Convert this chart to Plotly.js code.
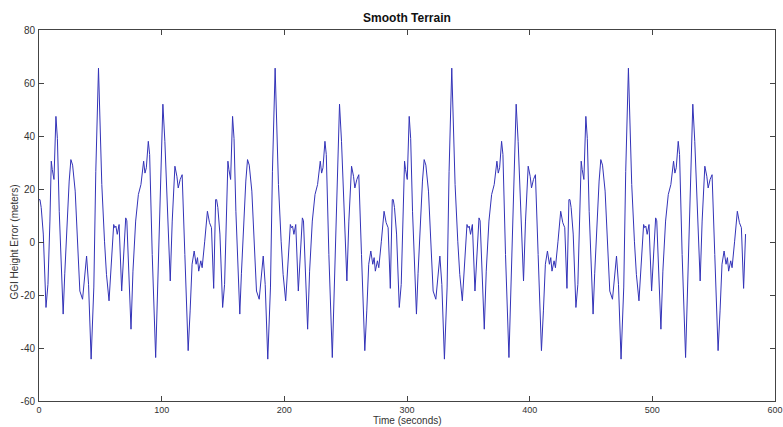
<!DOCTYPE html>
<html>
<head>
<meta charset="utf-8">
<script src="https://cdn.plot.ly/plotly-3.0.1.min.js"></script>
<style>
html,body{margin:0;padding:0;background:#fff;}
#chart{width:783px;height:427px;}
</style>
</head>
<body>
<div id="chart"></div>
<script>
// Time (seconds) and GGI height error (meters)
var timeSec = [
  0, 0.8, 1.8, 3.5, 5.7, 7.3, 8.9, 10, 10.8, 12.2, 13.8, 15, 16.5, 18, 19.7, 21, 22.5, 24.6, 26, 27.4,
  29.5, 31.7, 33.3, 35.5, 37.1, 38.8, 40.4, 42.5, 44.7, 46.3, 48.5, 49.3, 51.2, 53.4, 55, 57.1, 58.8, 60.9, 61.8, 62.7,
  63.8, 65.3, 67.4, 69.6, 70.7, 71.6, 72.3, 75, 76.6, 78.8, 81, 83.1, 85.3, 86.4, 87.5, 89.1, 90.2, 92.3, 95.1, 97.3,
  98.9, 101, 102.6, 104.3, 105.9, 107, 108.6, 110.8, 112.4, 113.5, 115.1, 116.7, 118.9, 121.6, 123.2, 124.8, 126.5, 128.1, 129.2, 130.2,
  131.9, 133, 135.1, 137.3, 139, 140.6, 142.4,
  144, 144.8, 145.8, 147.5, 149.7, 151.3, 152.9, 154, 154.8, 156.2, 157.8, 159, 160.5, 162, 163.7, 165, 166.5, 168.6, 170, 171.4,
  173.5, 175.7, 177.3, 179.5, 181.1, 182.8, 184.4, 186.5, 188.7, 190.3, 192.5, 193.3, 195.2, 197.4, 199, 201.1, 202.8, 204.9, 205.8, 206.7,
  207.8, 209.3, 211.4, 213.6, 214.7, 215.6, 216.3, 219, 220.6, 222.8, 225, 227.1, 229.3, 230.4, 231.5, 233.1, 234.2, 236.3, 239.1, 241.3,
  242.9, 245, 246.6, 248.3, 249.9, 251, 252.6, 254.8, 256.4, 257.5, 259.1, 260.7, 262.9, 265.6, 267.2, 268.8, 270.5, 272.1, 273.2, 274.2,
  275.9, 277, 279.1, 281.3, 283, 284.6, 286.4,
  288, 288.8, 289.8, 291.5, 293.7, 295.3, 296.9, 298, 298.8, 300.2, 301.8, 303, 304.5, 306, 307.7, 309, 310.5, 312.6, 314, 315.4,
  317.5, 319.7, 321.3, 323.5, 325.1, 326.8, 328.4, 330.5, 332.7, 334.3, 336.5, 337.3, 339.2, 341.4, 343, 345.1, 346.8, 348.9, 349.8, 350.7,
  351.8, 353.3, 355.4, 357.6, 358.7, 359.6, 360.3, 363, 364.6, 366.8, 369, 371.1, 373.3, 374.4, 375.5, 377.1, 378.2, 380.3, 383.1, 385.3,
  386.9, 389, 390.6, 392.3, 393.9, 395, 396.6, 398.8, 400.4, 401.5, 403.1, 404.7, 406.9, 409.6, 411.2, 412.8, 414.5, 416.1, 417.2, 418.2,
  419.9, 421, 423.1, 425.3, 427, 428.6, 430.4,
  432, 432.8, 433.8, 435.5, 437.7, 439.3, 440.9, 442, 442.8, 444.2, 445.8, 447, 448.5, 450, 451.7, 453, 454.5, 456.6, 458, 459.4,
  461.5, 463.7, 465.3, 467.5, 469.1, 470.8, 472.4, 474.5, 476.7, 478.3, 480.5, 481.3, 483.2, 485.4, 487, 489.1, 490.8, 492.9, 493.8, 494.7,
  495.8, 497.3, 499.4, 501.6, 502.7, 503.6, 504.3, 507, 508.6, 510.8, 513, 515.1, 517.3, 518.4, 519.5, 521.1, 522.2, 524.3, 527.1, 529.3,
  530.9, 533, 534.6, 536.3, 537.9, 539, 540.6, 542.8, 544.4, 545.5, 547.1, 548.7, 550.9, 553.6, 555.2, 556.8, 558.5, 560.1, 561.2, 562.2,
  563.9, 565, 567.1, 569.3, 571, 572.6, 574.4, 576
];
var heightErr = [
  16, 16, 13, 3, -24.7, -16, 7.9, 30.5, 27.4, 23.6, 47.4, 39, 11.6, -10, -27.2, -12, 5.4, 23, 31.1, 29,
  19.2, 0.3, -18.5, -21.6, -14.7, -5.3, -16, -44.2, -17, 26.5, 65.6, 54.3, 21.7, 0.3, -12.2, -22.2, -11, 6.6, 5.4, 6,
  2.9, 6.6, -18.5, 2.9, 9.1, 8, 0.3, -32.9, -11, 7.9, 17.9, 21.7, 30.5, 26, 28, 38, 33, -4.7, -43.6, -11,
  20.4, 52, 38, 17.9, -4.7, -14.7, 7.9, 28.6, 24.8, 20.4, 23.6, 25.4, -4.7, -41, -26, -8.4, -3.4, -8.4, -5.9, -11,
  -7.1, -9.7, 0.3, 11.6, 7.3, 5.4, -17.5,
  16, 16, 13, 3, -24.7, -16, 7.9, 30.5, 27.4, 23.6, 47.4, 39, 11.6, -10, -27.2, -12, 5.4, 23, 31.1, 29,
  19.2, 0.3, -18.5, -21.6, -14.7, -5.3, -16, -44.2, -17, 26.5, 65.6, 54.3, 21.7, 0.3, -12.2, -22.2, -11, 6.6, 5.4, 6,
  2.9, 6.6, -18.5, 2.9, 9.1, 8, 0.3, -32.9, -11, 7.9, 17.9, 21.7, 30.5, 26, 28, 38, 33, -4.7, -43.6, -11,
  20.4, 52, 38, 17.9, -4.7, -14.7, 7.9, 28.6, 24.8, 20.4, 23.6, 25.4, -4.7, -41, -26, -8.4, -3.4, -8.4, -5.9, -11,
  -7.1, -9.7, 0.3, 11.6, 7.3, 5.4, -17.5,
  16, 16, 13, 3, -24.7, -16, 7.9, 30.5, 27.4, 23.6, 47.4, 39, 11.6, -10, -27.2, -12, 5.4, 23, 31.1, 29,
  19.2, 0.3, -18.5, -21.6, -14.7, -5.3, -16, -44.2, -17, 26.5, 65.6, 54.3, 21.7, 0.3, -12.2, -22.2, -11, 6.6, 5.4, 6,
  2.9, 6.6, -18.5, 2.9, 9.1, 8, 0.3, -32.9, -11, 7.9, 17.9, 21.7, 30.5, 26, 28, 38, 33, -4.7, -43.6, -11,
  20.4, 52, 38, 17.9, -4.7, -14.7, 7.9, 28.6, 24.8, 20.4, 23.6, 25.4, -4.7, -41, -26, -8.4, -3.4, -8.4, -5.9, -11,
  -7.1, -9.7, 0.3, 11.6, 7.3, 5.4, -17.5,
  16, 16, 13, 3, -24.7, -16, 7.9, 30.5, 27.4, 23.6, 47.4, 39, 11.6, -10, -27.2, -12, 5.4, 23, 31.1, 29,
  19.2, 0.3, -18.5, -21.6, -14.7, -5.3, -16, -44.2, -17, 26.5, 65.6, 54.3, 21.7, 0.3, -12.2, -22.2, -11, 6.6, 5.4, 6,
  2.9, 6.6, -18.5, 2.9, 9.1, 8, 0.3, -32.9, -11, 7.9, 17.9, 21.7, 30.5, 26, 28, 38, 33, -4.7, -43.6, -11,
  20.4, 52, 38, 17.9, -4.7, -14.7, 7.9, 28.6, 24.8, 20.4, 23.6, 25.4, -4.7, -41, -26, -8.4, -3.4, -8.4, -5.9, -11,
  -7.1, -9.7, 0.3, 11.6, 7.3, 5.4, -17.5, 3
];
var xTicks = [0, 100, 200, 300, 400, 500, 600];
var yTicks = [-60, -40, -20, 0, 20, 40, 60, 80];

var chartTitle = 'Smooth Terrain';
var xLabel = 'Time (seconds)';
var yLabel = 'GGI Height Error (meters)';

var fontFam = '"Liberation Sans Narrow", "Liberation Sans", Arial, sans-serif';

var trace = {
  x: timeSec,
  y: heightErr,
  type: 'scatter',
  mode: 'lines',
  line: {color: '#3333b8', width: 1},
  hoverinfo: 'skip'
};

var axisCommon = {
  showgrid: false,
  zeroline: false,
  showline: true,
  linecolor: '#444',
  linewidth: 1,
  mirror: 'allticks',
  ticks: 'inside',
  ticklen: 5,
  tickwidth: 1,
  tickcolor: '#444',
  ticklabeloverflow: 'allow',
  tickfont: {family: fontFam, size: 10, color: '#333'}
};

var layout = {
  width: 783,
  height: 427,
  margin: {l: 39, r: 8, t: 30, b: 26, pad: 0},
  paper_bgcolor: '#ffffff',
  plot_bgcolor: '#ffffff',
  showlegend: false,
  title: {
    text: chartTitle,
    font: {family: '"Liberation Sans", Arial, sans-serif', size: 12, color: '#111', weight: 'bold'},
    x: 0.5, xref: 'paper', xanchor: 'center',
    y: 1 - 18 / 427, yref: 'container', yanchor: 'middle'
  },
  xaxis: Object.assign({}, axisCommon, {
    range: [0, 600],
    tickvals: xTicks,
    ticktext: xTicks.map(String),
    ticklabelstandoff: 0,
    tickfont: {family: fontFam, size: 9, color: '#333'}
  }),
  yaxis: Object.assign({}, axisCommon, {
    range: [-60, 80],
    tickvals: yTicks,
    ticktext: yTicks.map(String),
    ticklabelstandoff: 1
  }),
  annotations: [
    {
      text: xLabel, xref: 'paper', yref: 'paper', x: 0.5, y: 0,
      xanchor: 'center', yanchor: 'top', yshift: -13, borderpad: 0, showarrow: false,
      font: {family: fontFam, size: 10, color: '#333'}
    },
    {
      text: yLabel, xref: 'paper', yref: 'y', x: 0, y: 0,
      xanchor: 'right', yanchor: 'middle', xshift: -18, showarrow: false, textangle: -90,
      font: {family: fontFam, size: 10, color: '#333'}
    }
  ]
};

Plotly.newPlot('chart', [trace], layout, {staticPlot: true, displayModeBar: false});
</script>
</body>
</html>
